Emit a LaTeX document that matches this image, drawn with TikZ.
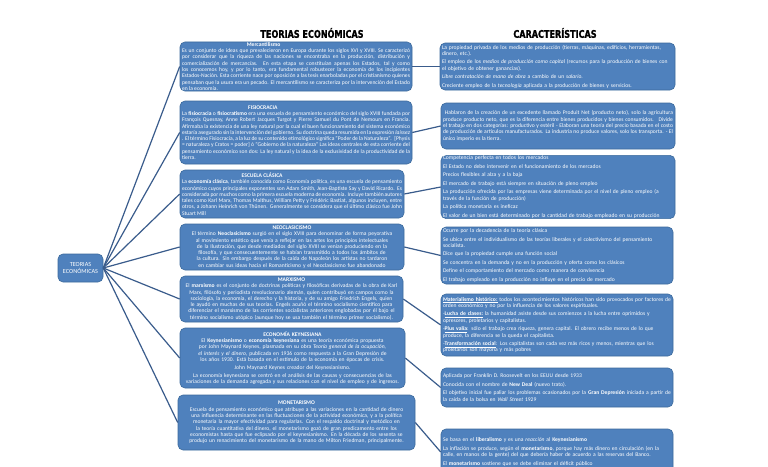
\documentclass[tikz,border=0pt]{standalone}
\usepackage{fontspec}
\setmainfont{Carlito}
\newfontfamily\titlefont[FakeStretch=0.77,FakeBold=1.2]{DejaVu Sans}
\definecolor{boxblue}{HTML}{4F81BD}
\definecolor{boxedge}{HTML}{3C6A9C}
\definecolor{linkblue}{HTML}{3A5C8C}
\tikzset{
  box/.style={draw=boxedge, line width=0.6pt, fill=boxblue, rounded corners=5pt,
    text=white, inner xsep=2pt, inner ysep=0.5pt, anchor=center,
    font=\fontsize{5.6}{6.3}\selectfont,
    execute at begin node={\parindent=0pt\parskip=0pt\hyphenpenalty=10000\exhyphenpenalty=10000}},
  link/.style={draw=linkblue, line width=1.2pt},
  heading/.style={font=\titlefont\bfseries\fontsize{10.5}{12}\selectfont, text=black, inner sep=0pt}
}
\newcommand{\boxtitle}[1]{\hfil\textbf{#1}\hfil\null\par}
\begin{document}
\begin{tikzpicture}[x=1pt, y=-1pt]
\useasboundingbox (0,0) rectangle (768,466);
\fill[white] (0,0) rectangle (768,466);

\node[heading] (t1) at (312,33) {TEORIAS ECONÓMICAS};
\node[heading] (t2) at (555,33) {CARACTERÍSTICAS};

\node[box, text width=41pt, minimum height=28pt, align=center, font=\fontsize{6.2}{7.2}\selectfont] (root) at (80.5,268) {TEORIAS\\ECONÓMICAS};

% left column
\node[box, text width=228pt, minimum height=49pt, align=justify] (mer) at (296,66.5) {\boxtitle{Mercantilismo}Es un conjunto de ideas que prevalecieron en Europa durante los siglos XVI y XVIII. Se caracterizó por considerar que la riqueza de las naciones se encontraba en la producción, distribución y comercialización de mercancías. En esta etapa se constituían apenas los Estados, tal y como los conocemos hoy, y por lo tanto, era fundamental robustecer la economía de los incipientes Estados-Nación. Esta corriente nace por oposición a las tesis enarboladas por el cristianismo quienes pensaban que la usura era un pecado. El mercantilismo se caracteriza por la intervención del Estado en la economía.};

\node[box, text width=228pt, minimum height=63pt, align=justify] (fis) at (296,132.5) {\boxtitle{FISIOCRACIA}La \textbf{fisiocracia} o \textbf{fisiocratismo} era una escuela de pensamiento económico del siglo XVIII fundada por François Quesnay, Anne Robert Jacques Turgot y Pierre Samuel du Pont de Nemours en Francia. Afirmaba la existencia de una ley natural por la cual el buen funcionamiento del sistema económico estaría asegurado sin la intervención del gobierno. Su doctrina queda resumida en la expresión \textit{laissez} . El término Fisiocracia, a la luz de su contenido etimológico significa "Poder de la Naturaleza". \ [Physis = naturaleza y Cratos = poder] ó "Gobierno de la naturaleza" Las ideas centrales de esta corriente del pensamiento económico son dos: La ley natural y la idea de la exclusividad de la productividad de la tierra.};

\node[box, text width=220pt, minimum height=48pt, align=justify] (cla) at (292,194) {\boxtitle{ESCUELA CLÁSICA}La \textbf{economía clásica}, también conocida como Economía política, es una escuela de pensamiento económico cuyos principales exponentes son Adam Smith, Jean-Baptiste Say y David Ricardo. Es considerada por muchos como la primera escuela moderna de economía. Incluye también autores tales como Karl Marx, Thomas Malthus, William Petty y Frédéric Bastiat, algunos incluyen, entre otros, a Johann Heinrich von Thünen. Generalmente se considera que el último clásico fue John Stuart Mill};

\node[box, text width=220pt, minimum height=46pt, align=center] (neo) at (292,247) {\textbf{NEOCLASICISMO}\\El término \textbf{Neoclasicismo} surgió en el siglo XVIII para denominar de forma peyorativa al movimiento estético que venía a reflejar en las artes los principios intelectuales de la Ilustración, que desde mediados del siglo XVIII se venían produciendo en la filosofía, y que consecuentemente se habían transmitido a todos los ámbitos de la cultura. Sin embargo después de la caída de Napoleón los artistas no tardaron en cambiar sus ideas hacia el Romanticismo y el Neoclasicismo fue abandonado};

\node[box, text width=219pt, minimum height=46pt, align=center] (mar) at (291.5,299) {\textbf{MARXISMO}\\El \textbf{marxismo} es el conjunto de doctrinas políticas y filosóficas derivadas de la obra de Karl Marx, filósofo y periodista revolucionario alemán, quien contribuyó en campos como la sociología, la economía, el derecho y la historia, y de su amigo Friedrich Engels, quien le ayudó en muchas de sus teorías. Engels acuñó el término socialismo científico para diferenciar el marxismo de las corrientes socialistas anteriores englobadas por él bajo el término socialismo utópico (aunque hoy se usa también el término primer socialismo).};

\node[box, text width=221pt, minimum height=60pt, align=center] (key) at (292.5,358) {\textbf{ECONOMÍA KEYNESIANA}\\El \textbf{Keynesianismo} o \textbf{economía keynesiana} es una teoría económica propuesta por John Maynard Keynes, plasmada en su obra \textit{Teoría general de la ocupación, el interés y el dinero}, publicada en 1936 como respuesta a la Gran Depresión de los años 1930. Está basada en el estímulo de la economía en épocas de crisis.\\[1.5pt]John Maynard Keynes creador del Keynesianismo.\\[1.5pt]La economía keynesiana se centró en el análisis de las causas y consecuencias de las variaciones de la demanda agregada y sus relaciones con el nivel de empleo y de ingresos.};

\node[box, text width=233pt, minimum height=55pt, align=center] (mon) at (296.5,422.5) {\textbf{MONETARISMO}\\Escuela de pensamiento económico que atribuye a las variaciones en la cantidad de dinero una influencia determinante en las fluctuaciones de la actividad económica, y a la política monetaria la mayor efectividad para regularlas. Con el respaldo doctrinal y metódico en la teoría cuantitativa del dinero, el monetarismo gozó de gran predicamento entre los economistas hasta que fue eclipsado por el keynesianismo. En la década de los sesenta se produjo un renacimiento del monetarismo de la mano de Milton Friedman, principalmente.};

% right column
\node[box, text width=231pt, minimum height=47pt, align=left] (c1) at (557.5,66.5) {La propiedad privada de los medios de producción (tierras, máquinas, edificios, herramientas, dinero, etc.).\\[2.2pt]El empleo de los \textit{medios de producción como capital} (recursos para la producción de bienes con el objetivo de obtener ganancias).\\[2.2pt]\textit{Libre contratación de mano de obra} a cambio de un \textit{salario}.\\[2.2pt]Creciente empleo de la \textit{tecnología} aplicada a la producción de bienes y servicios.};

\node[box, text width=230pt, minimum height=46pt, align=justify] (c2) at (558,126) {\ Hablaron de la creación de un excedente llamado Produit Net (producto neto), solo la agricultura produce producto neto, que es la diferencia entre bienes producidos y bienes consumidos. \ Divide el trabajo en dos categorías: productivo y estéril - Elaboran una teoría del precio basada en el costo \ de producción de artículos manufacturados. La industria no produce valores, solo los transporta. - El único imperio es la tierra.};

\node[box, text width=230pt, minimum height=60pt, align=left] (c3) at (558,187) {Competencia perfecta en todos los mercados\\[2.2pt]El Estado no debe intervenir en el funcionamiento de los mercados\\[2.2pt]Precios flexibles al alza y a la baja\\[2.2pt]El mercado de trabajo está siempre en situación de pleno empleo\\[2.2pt]La producción ofrecida por las empresas viene determinada por el nivel de pleno empleo (a través de la función de producción)\\[2.2pt]La política monetaria es ineficaz\\[2.2pt]El valor de un bien está determinado por la cantidad de trabajo empleado en su producción};

\node[box, text width=228pt, minimum height=57pt, align=left] (c4) at (557,255.5) {Ocurre por la decadencia de la teoría clásica\\[2.2pt]Se ubica entre el individualismo de las teorías liberales y el colectivismo del pensamiento socialista.\\[2.2pt]Dice que la propiedad cumple una función social\\[2.2pt]Se concentra en la demanda y no en la producción y oferta como los clásicos\\[2.2pt]Define el comportamiento del mercado como manera de convivencia\\[2.2pt]El trabajo empleado en la producción no influye en el precio de mercado};

\node[box, text width=228pt, minimum height=62pt, align=left] (c5) at (557,325) {\underline{\textbf{Materialismo histórico:}} todos los acontecimientos históricos han sido provocados por factores de orden económico y no por la influencia de los valores espirituales.\\[2.2pt]-\underline{\textbf{Lucha de clases:}} la humanidad asiste desde sus comienzos a la lucha entre oprimidos y opresores, proletarios y capitalistas.\\[2.2pt]-\underline{\textbf{Plus valía}}: sólo el trabajo crea riqueza, genera capital. El obrero recibe menos de lo que produce, la diferencia se la queda el capitalista.\\[2.2pt]-\underline{\textbf{Transformación social}}: Los capitalistas son cada vez más ricos y menos, mientras que los proletarios son mayoría y más pobres};

\node[box, text width=228pt, minimum height=39pt, align=left] (c6) at (557,387.5) {Aplicada por Franklin D. Roosevelt en los EEUU desde 1933\\[2.2pt]Conocida con el nombre de \textbf{New Deal} (nuevo trato).\\[2.2pt]El objetivo inicial fue paliar los problemas ocasionados por la \textbf{Gran Depresión} iniciada a partir de la caída de la bolsa en \textit{Wall Street} 1929};

\node[box, text width=228pt, minimum height=46pt, align=left] (c7) at (557,452) {Se basa en el \textbf{liberalismo} y es una \textit{reacción} al \textbf{Keynesianismo}\\[2.2pt]La inflación se produce, según el \textbf{monetarismo}, porque hay más dinero en circulación (en la calle, en manos de la gente) del que debería haber de acuerdo a las reservas del Banco.\\[2.2pt]El \textbf{monetarismo} sostiene que se debe eliminar el déficit público};

% connectors
\foreach \n in {mer,fis,cla,neo,mar,key,mon}
  \draw[link] (root.east) -- (\n.west);
\draw[link] (mer.east) -- (c1.west);
\draw[link] (fis.east) -- (c2.west);
\draw[link] (cla.east) -- (c3.west);
\draw[link] (neo.east) -- (c4.west);
\draw[link] (mar.east) -- (c5.west);
\draw[link] (key.east) -- (c6.west);
\draw[link] (mon.east) -- (c7.west);
\end{tikzpicture}
\end{document}
